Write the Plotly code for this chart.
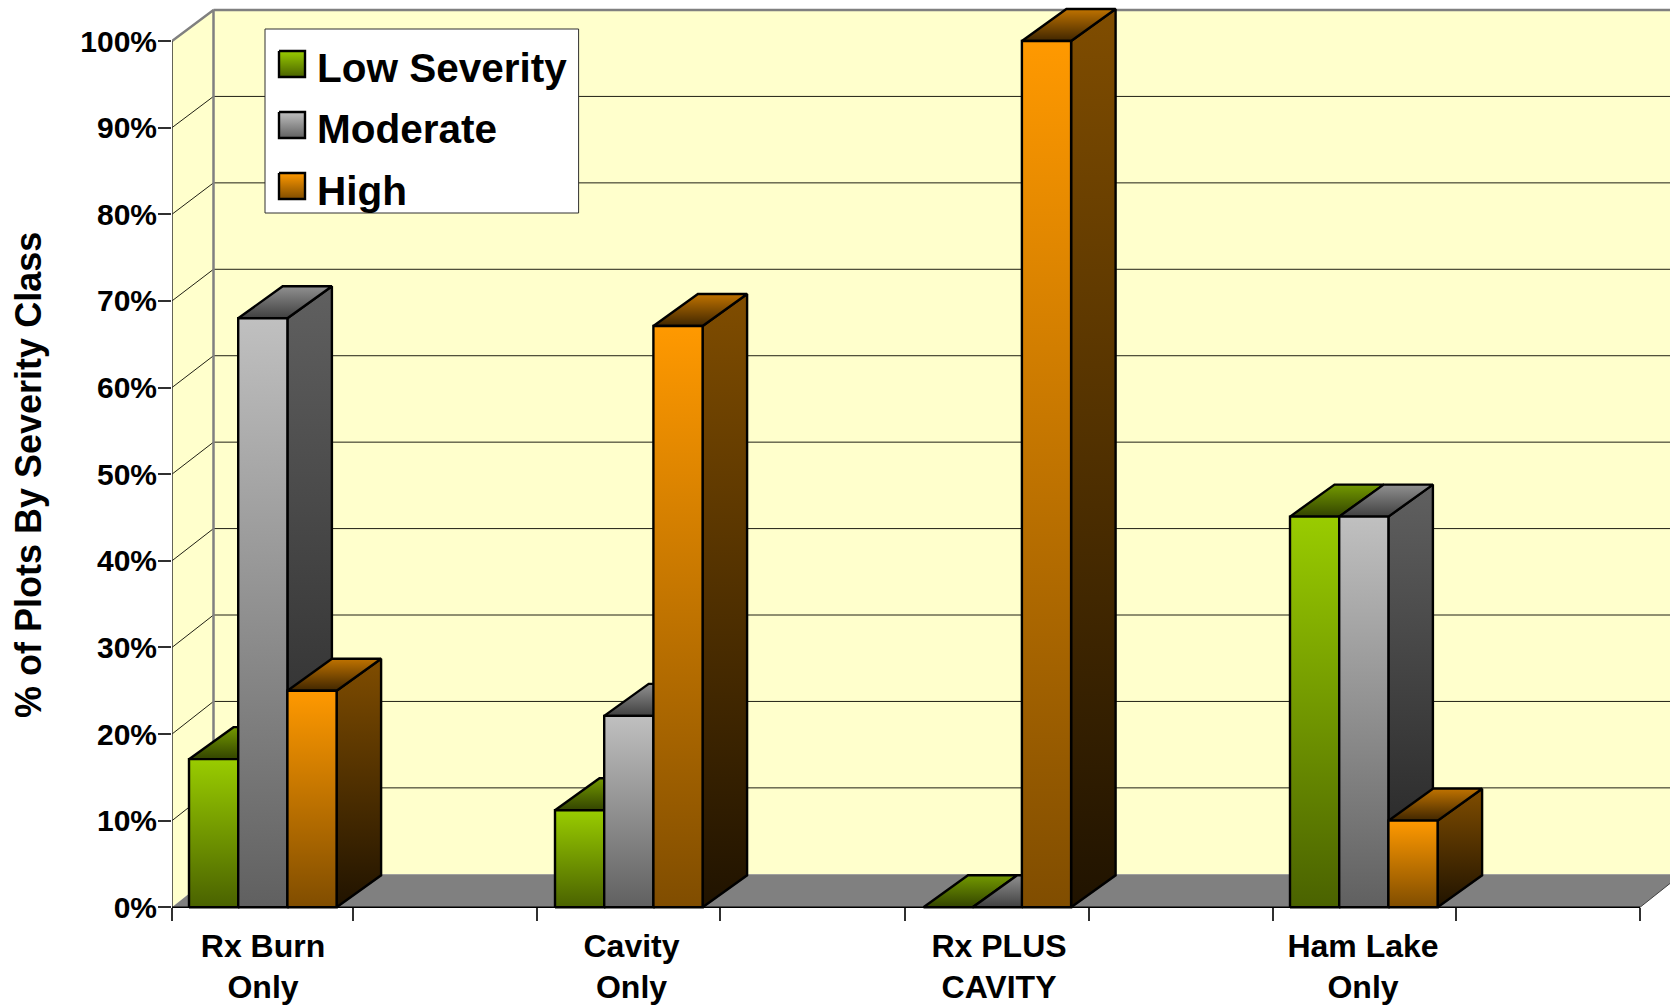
import plotly.graph_objects as go

# ---- data ----
categories = ["Rx Burn<br>Only", "Cavity<br>Only", "Rx PLUS<br>CAVITY", "Ham Lake<br>Only"]
low_severity = [17.1, 11.2, 0.0, 45.1]
moderate = [68.0, 22.1, 0.0, 45.1]
high = [25.0, 67.1, 100.0, 10.0]
y_ticks = list(range(0, 101, 10))
y_tick_labels = [f"{v}%" for v in y_ticks]

# ---- layout constants (pixels) ----
W, H = 1670, 1008
PX_LEFT, PX_FLOOR, PX_TOP100 = 172.0, 907.3, 41.0
PX_PER_X = 183.5                       # one tick interval = 1 x unit
PX_PER_PCT = (PX_FLOOR - PX_TOP100) / 100
PX_TICKS = [172, 353, 537, 720, 905, 1088.6, 1273, 1456, 1640]
PX_GROUPS = [189, 555, 923.5, 1290]
PX_LABELS = [263, 631.5, 999, 1363]


def X(px): return (px - PX_LEFT) / PX_PER_X
def Y(py): return (PX_FLOOR - py) / PX_PER_PCT


WALL_DX = 41.5 / PX_PER_X              # depth offset of the walls
BAR_DX = 44.5 / PX_PER_X               # depth offset of the bars
DY = 32.0 / PX_PER_PCT
WALL_Y0, WALL_Y100 = Y(874.3), Y(10.0)  # where 0% and 100% lie on the back wall
BAR_W = 49.2 / PX_PER_X
XEND = X(PX_TICKS[-1])


def back(v): return WALL_Y0 + v * (WALL_Y100 - WALL_Y0) / 100


FONT = "Liberation Sans"
BLACK = "#000000"

series = [
    dict(name="Low Severity", values=low_severity,
         front=("#99CC00", "#4A6200"), side=("#4D6600", "#1A2200"), top=("#739900", "#334400")),
    dict(name="Moderate", values=moderate,
         front=("#C0C0C0", "#606060"), side=("#606060", "#202020"), top=("#909090", "#404040")),
    dict(name="High", values=high,
         front=("#FF9900", "#804D00"), side=("#804D00", "#201300"), top=("#C07300", "#402600")),
]

fig = go.Figure()


def poly(xs, ys, fill=None, grad=None, line=BLACK, width=2.4, **kw):
    t = dict(x=list(xs) + [xs[0]], y=list(ys) + [ys[0]], mode="lines", fill="toself",
             line=dict(color=line, width=width), hoverinfo="skip", showlegend=False)
    if grad:
        hi, lo = grad
        t["fillgradient"] = dict(type="vertical", colorscale=[[0, lo], [1, hi]],
                                 start=min(ys), stop=max(ys))
    else:
        t["fillcolor"] = fill
    t.update(kw)
    fig.add_trace(go.Scatter(**t))


def line(xs, ys, color, width):
    fig.add_trace(go.Scatter(x=xs, y=ys, mode="lines", line=dict(color=color, width=width),
                             hoverinfo="skip", showlegend=False))


WALL = "#FFFFCC"
GREY = "#808080"
DX = WALL_DX

# walls and floor
poly([DX, XEND + DX, XEND + DX, DX], [back(0), back(0), back(100), back(100)], fill=WALL, line=WALL, width=0)
poly([0, DX, DX, 0], [0, back(0), back(100), 100], fill=WALL, line=WALL, width=0)
poly([0, XEND, XEND + DX, DX], [0, 0, back(0), back(0)], fill=GREY, line=GREY, width=0)
line([XEND, XEND + DX], [0, back(0)], "#404040", 1)

# grid lines on both walls
for v in y_ticks[1:-1]:
    line([0, DX, XEND + DX], [v, back(v), back(v)], "#202014", 1)

# wall edges
line([0, DX, DX], [100, back(100), back(0)], GREY, 2.5)
line([DX, XEND + DX], [back(100), back(100)], GREY, 2.5)
line([0, 0], [0, 100], "#303030", 1.5)
line([0, XEND], [0, 0], BLACK, 1.5)

# bars
for g in range(len(categories)):
    x0 = X(PX_GROUPS[g])
    for s_i, s in enumerate(series):
        v = s["values"][g]
        l = x0 + s_i * BAR_W
        r = l + BAR_W
        lg = s["name"]
        if v > 0:
            poly([r, r + BAR_DX, r + BAR_DX, r], [0, DY, v + DY, v], grad=s["side"], legendgroup=lg)
        poly([l, r, r + BAR_DX, l + BAR_DX], [v, v, v + DY, v + DY], grad=s["top"], legendgroup=lg)
        if v > 0:
            poly([l, r, r, l], [0, 0, v, v], grad=s["front"], legendgroup=lg)

# legend box and swatches beneath the transparent native legend
poly([X(265), X(578.6), X(578.6), X(265)], [Y(29), Y(29), Y(213), Y(213)],
     fill="#FFFFFF", line="#303030", width=1)
for s, top_px in zip(series, (51, 112, 173)):
    poly([X(279), X(305), X(305), X(279)], [Y(top_px), Y(top_px), Y(top_px + 26), Y(top_px + 26)],
         grad=s["front"], legendgroup=s["name"])
    fig.add_trace(go.Scatter(x=[None], y=[None], mode="lines", name=s["name"], legendgroup=s["name"],
                             line=dict(color="rgba(0,0,0,0)", width=0), hoverinfo="skip"))

fig.update_layout(
    width=W, height=H, margin=dict(l=int(PX_LEFT), r=0, t=0, b=0, pad=0, autoexpand=False),
    paper_bgcolor="#FFFFFF", plot_bgcolor="#FFFFFF",
    font=dict(family=FONT, color=BLACK),
    legend=dict(x=(322 - 45 - PX_LEFT) / (W - PX_LEFT), y=1 - 33 / H, xanchor="left", yanchor="top",
                bgcolor="rgba(0,0,0,0)", borderwidth=0, tracegroupgap=6,
                font=dict(family=FONT, size=40.5, color=BLACK, weight="bold")),
    xaxis=dict(range=[0, (W - PX_LEFT) / PX_PER_X], anchor="free", position=(H - PX_FLOOR) / H,
               showgrid=False, zeroline=False, showline=False,
               tickmode="array", tickvals=[X(p) for p in PX_LABELS], ticktext=categories,
               ticks="outside", ticklen=0, tickangle=0, ticklabelstandoff=10,
               tickfont=dict(family=FONT, size=32, color=BLACK, weight="bold"),
               minor=dict(tickmode="array", tickvals=[X(p) for p in PX_TICKS], ticks="outside",
                          ticklen=13, tickwidth=1.5, tickcolor="#303030", showgrid=False)),
    yaxis=dict(range=[Y(H), Y(0)], showgrid=False, zeroline=False, showline=False,
               tickmode="array", tickvals=y_ticks, ticktext=y_tick_labels,
               ticks="outside", ticklen=13, tickwidth=1.5, tickcolor="#303030", ticklabelstandoff=-5,
               tickfont=dict(family=FONT, size=30, color=BLACK, weight="bold")),
    annotations=[dict(text="% of Plots By Severity Class", xref="paper", yref="paper", showarrow=False,
                      x=-144 / (W - PX_LEFT), y=1 - 475 / H, textangle=-90, xanchor="center", yanchor="middle",
                      font=dict(family=FONT, size=36, color=BLACK, weight="bold"))],
)

fig.write_html("out.html", config=dict(displayModeBar=False),
               post_script="document.body.style.margin='0';document.body.style.overflow='hidden';")
